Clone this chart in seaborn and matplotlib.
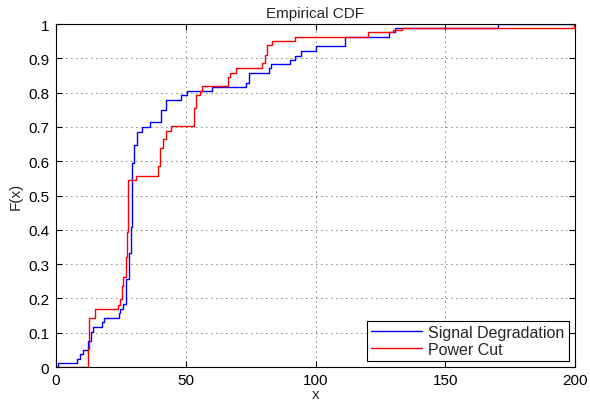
import matplotlib
matplotlib.use("Agg")
import matplotlib.pyplot as plt
import seaborn as sns

# Signal Degradation empirical CDF (step positions and levels)
sd_x = [0, 0.9, 8.2, 9.1, 10.3, 12.2, 13.6, 14.1, 17.7, 18.4, 24.1, 24.8, 25.7,
        27.0, 28.1, 28.9, 29.4, 30.2, 31.1, 33.3, 36.2, 40.3, 42.3, 48.3, 50.3,
        60.2, 73.3, 74.3, 82.2, 82.8, 90.2, 92.1, 94.3, 100.3, 111.4, 128.5,
        130.6, 170.5, 200]
sd_f = [0, 0.012, 0.023, 0.038, 0.050, 0.077, 0.103, 0.117, 0.130, 0.143, 0.157,
        0.169, 0.184, 0.257, 0.331, 0.407, 0.596, 0.647, 0.684, 0.699, 0.713,
        0.749, 0.778, 0.792, 0.804, 0.817, 0.829, 0.857, 0.872, 0.883, 0.895,
        0.906, 0.922, 0.937, 0.963, 0.976, 0.988, 1.0, 1.0]

# Power Cut empirical CDF
pc_x = [0, 12.2, 12.9, 15.0, 24.0, 24.7, 25.3, 25.9, 26.8, 27.2, 27.6, 31.0,
        39.4, 40.2, 41.2, 42.3, 44.3, 53.3, 54.0, 55.5, 56.1, 66.3, 67.2, 69.2,
        79.3, 80.5, 81.2, 83.1, 92.1, 120.4, 130.0, 133.2, 199.6, 200]
pc_f = [0, 0.052, 0.142, 0.168, 0.180, 0.198, 0.236, 0.261, 0.320, 0.393, 0.546,
        0.558, 0.587, 0.638, 0.665, 0.689, 0.703, 0.754, 0.792, 0.806, 0.820,
        0.845, 0.857, 0.872, 0.885, 0.911, 0.940, 0.951, 0.962, 0.976, 0.983,
        0.988, 1.0, 1.0]

x_ticks = [0, 50, 100, 150, 200]
x_tick_labels = ["0", "50", "100", "150", "200"]
y_ticks = [0, 0.1, 0.2, 0.3, 0.4, 0.5, 0.6, 0.7, 0.8, 0.9, 1.0]
y_tick_labels = ["0", "0.1", "0.2", "0.3", "0.4", "0.5", "0.6", "0.7", "0.8", "0.9", "1"]

sns.set_style("ticks")
plt.rcParams["font.family"] = ["Liberation Sans", "DejaVu Sans"]

fig = plt.figure(figsize=(5.9, 4.02), dpi=100)
ax = fig.add_axes([56 / 590, 1 - 368 / 402, (575 - 56) / 590, (368 - 25) / 402])

sns.lineplot(x=sd_x, y=sd_f, drawstyle="steps-post", color="#0000ff", lw=1.0,
             label="Signal Degradation", ax=ax, estimator=None, sort=False)
sns.lineplot(x=pc_x, y=pc_f, drawstyle="steps-post", color="#ff0000", lw=1.0,
             label="Power Cut", ax=ax, estimator=None, sort=False)

ax.set_xlim(0, 200)
ax.set_ylim(0, 1)
ax.set_xticks(x_ticks)
ax.set_xticklabels(x_tick_labels)
ax.set_yticks(y_ticks)
ax.set_yticklabels(y_tick_labels)
ax.grid(True, color="black", linestyle=(0, (1, 5)), linewidth=0.6)
ax.set_axisbelow(True)

for s in ax.spines.values():
    s.set_visible(True)
    s.set_color("black")
    s.set_linewidth(0.8)
ax.tick_params(direction="in", top=True, right=True, bottom=True, left=True,
               length=4, width=0.8, colors="black", labelsize=11)
ax.tick_params(axis="x", pad=4)
ax.tick_params(axis="y", pad=5)

ax.set_title("Empirical CDF", fontsize=11, pad=5)
ax.set_xlabel("x", fontsize=11, labelpad=0)
ax.set_ylabel("F(x)", fontsize=11, labelpad=4)

leg = ax.legend(loc="lower right", fontsize=11.5, frameon=True, fancybox=False,
                edgecolor="black", framealpha=1, handlelength=3.2,
                borderaxespad=0.4, borderpad=0.25, labelspacing=0.1,
                handletextpad=0.4)
leg.get_frame().set_linewidth(0.8)

fig.savefig("out.png", dpi=100)
